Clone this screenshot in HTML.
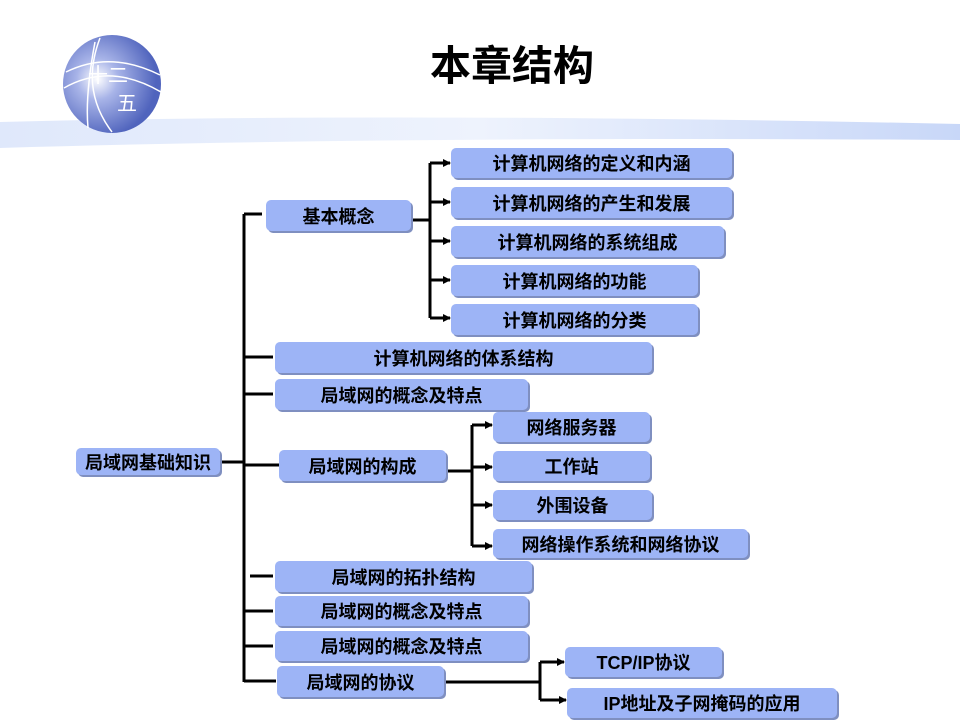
<!DOCTYPE html>
<html><head><meta charset="utf-8"><style>
body{margin:0;width:960px;height:720px;overflow:hidden;background:#fff;position:relative;font-family:"Liberation Sans","Noto Sans CJK SC",sans-serif}
.b{position:absolute;background:#9db4f6;border-radius:5px;box-shadow:2px 2px 0 #7f8fc0;font-size:18px;font-weight:bold;color:#000;display:flex;align-items:center;justify-content:center;box-sizing:border-box}
svg{position:absolute;left:0;top:0}
</style></head><body>
<svg width="960" height="720">
<defs>
<linearGradient id="band" x1="0" y1="0" x2="1" y2="0"><stop offset="0" stop-color="#dfe8fb"/><stop offset="0.5" stop-color="#eef3fd"/><stop offset="1" stop-color="#c8d7f8"/></linearGradient>
<radialGradient id="gl" cx="0.35" cy="0.45" r="0.6"><stop offset="0" stop-color="#fff"/><stop offset="0.35" stop-color="#a8b4e8"/><stop offset="1" stop-color="#5064bd"/></radialGradient>
<marker id="a" markerWidth="8" markerHeight="8" refX="7" refY="4" orient="auto" markerUnits="userSpaceOnUse"><path d="M0,0L8,4L0,8z" fill="#000"/></marker>
</defs>
<path d="M0,122 Q400,112 960,124 L960,140 Q400,136 0,148 Z" fill="url(#band)"/>
<circle cx="112" cy="84" r="49" fill="url(#gl)"/>
<g stroke="#fff" stroke-width="1.5" fill="none">
<path d="M66,72 Q110,50 160,75"/><path d="M64,88 Q110,62 161,92"/>
<path d="M100,38 Q80,90 112,132"/><path d="M95,42 Q85,95 88,128"/>
</g>
<text x="88" y="82" font-size="20" fill="#fff" font-family="Noto Sans CJK SC">十二</text>
<text x="117" y="110" font-size="20" fill="#fff" font-family="Noto Sans CJK SC">五</text>
<g stroke="#000" stroke-width="3" fill="none">
<path d="M244,214 V682"/><path d="M244,214 H262"/>
<path d="M220,462 H244"/>
<path d="M244,357 H273"/><path d="M244,394 H273"/><path d="M244,465 H279"/>
<path d="M250,576 H273"/><path d="M244,611 H273"/><path d="M244,646 H273"/><path d="M244,681 H276"/>
<path d="M404,220 H430"/><path d="M430,163 V318"/>
<path d="M446,471 H472"/><path d="M472,425 V546"/>
<path d="M444,682 H540"/><path d="M540,662 V700"/>
</g>
<g stroke="#000" stroke-width="3" marker-end="url(#a)">
<path d="M430,163 H450"/><path d="M430,202 H450"/><path d="M430,241 H450"/><path d="M430,280 H450"/><path d="M430,318 H450"/>
<path d="M472,425 H492"/><path d="M472,467 H492"/><path d="M472,505 H492"/><path d="M472,546 H492"/>
<path d="M540,662 H564"/><path d="M540,700 H566"/>
</g>
</svg>
<div style="position:absolute;left:402px;top:32px;width:220px;text-align:center;font-size:41px;font-weight:bold">本章结构</div>
<div class="b" style="left:451px;top:148px;width:281px;height:30px">计算机网络的定义和内涵</div>
<div class="b" style="left:451px;top:187px;width:281px;height:31px">计算机网络的产生和发展</div>
<div class="b" style="left:451px;top:226px;width:273px;height:31px">计算机网络的系统组成</div>
<div class="b" style="left:451px;top:265px;width:247px;height:31px">计算机网络的功能</div>
<div class="b" style="left:451px;top:304px;width:247px;height:31px">计算机网络的分类</div>
<div class="b" style="left:266px;top:200px;width:145px;height:31px">基本概念</div>
<div class="b" style="left:275px;top:342px;width:377px;height:31px">计算机网络的体系结构</div>
<div class="b" style="left:275px;top:379px;width:253px;height:31px">局域网的概念及特点</div>
<div class="b" style="left:493px;top:412px;width:157px;height:30px">网络服务器</div>
<div class="b" style="left:493px;top:451px;width:157px;height:30px">工作站</div>
<div class="b" style="left:493px;top:490px;width:159px;height:30px">外围设备</div>
<div class="b" style="left:493px;top:529px;width:255px;height:29px">网络操作系统和网络协议</div>
<div class="b" style="left:279px;top:450px;width:167px;height:31px">局域网的构成</div>
<div class="b" style="left:76px;top:448px;width:144px;height:27px">局域网基础知识</div>
<div class="b" style="left:275px;top:561px;width:257px;height:31px">局域网的拓扑结构</div>
<div class="b" style="left:275px;top:596px;width:253px;height:30px">局域网的概念及特点</div>
<div class="b" style="left:275px;top:631px;width:253px;height:30px">局域网的概念及特点</div>
<div class="b" style="left:277px;top:666px;width:167px;height:31px">局域网的协议</div>
<div class="b" style="left:565px;top:647px;width:157px;height:30px">TCP/IP协议</div>
<div class="b" style="left:567px;top:688px;width:270px;height:30px">IP地址及子网掩码的应用</div>
</body></html>
